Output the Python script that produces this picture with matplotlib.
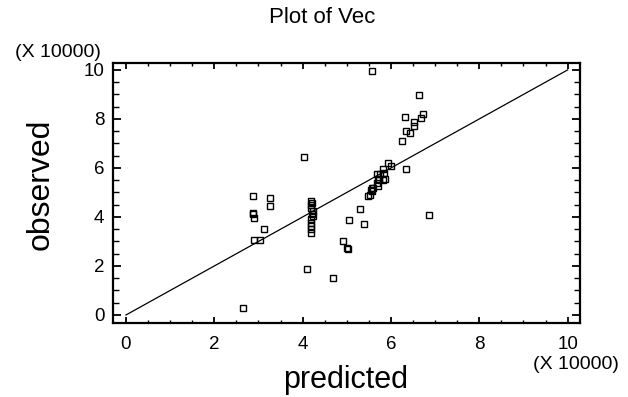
import numpy as np
import matplotlib
matplotlib.use("Agg")
import matplotlib.pyplot as plt
from matplotlib.ticker import MultipleLocator

plt.rcParams['font.family'] = ['Liberation Sans', 'DejaVu Sans']

# values shown in units of 10000
predicted = [2.66, 2.87, 3.25, 3.25, 2.87, 2.88, 2.90, 3.12, 2.90, 3.03,
             4.03, 4.10, 4.69, 4.92, 5.00, 5.02, 5.06, 5.29, 5.39, 6.85, 6.35,
             4.19, 4.21, 4.19, 4.19, 4.23, 4.22, 4.23, 4.19, 4.20, 4.19, 4.19, 4.19,
             5.49, 5.52, 5.56, 5.60, 5.71, 5.68, 5.71, 5.87, 5.68, 5.76, 5.83,
             5.94, 6.01, 6.26, 6.35, 6.42, 6.53, 6.53, 6.67, 6.73, 6.32, 6.63,
             5.58, 5.54, 5.58, 5.72, 5.83, 5.84]
observed = [0.28, 4.84, 4.76, 4.43, 4.16, 4.10, 3.95, 3.52, 3.07, 3.07,
            6.46, 1.86, 1.49, 3.00, 2.75, 2.70, 3.86, 4.33, 3.73, 4.09, 5.97,
            4.66, 4.55, 4.47, 4.37, 4.24, 4.14, 4.03, 3.90, 3.76, 3.62, 3.52, 3.36,
            4.85, 4.91, 5.05, 5.19, 5.26, 5.40, 5.56, 5.56, 5.76, 5.76, 5.94,
            6.21, 6.07, 7.08, 7.50, 7.44, 7.73, 7.87, 8.05, 8.22, 8.09, 8.99,
            9.97, 5.08, 5.18, 5.53, 5.49, 5.80]
line_x = [0, 10]

fig = plt.figure(figsize=(6.28, 3.97), dpi=100)
ax = fig.add_axes([0.1795, 0.1856, 0.7441, 0.655])

ax.plot(predicted, observed, 's', mfc='none', mec='black', ms=5, mew=1.0)
ax.plot(line_x, line_x, '-', color='black', lw=0.9)

ax.set_xlim(-0.3, 10.28)
ax.set_ylim(-0.34, 10.27)
ax.xaxis.set_major_locator(MultipleLocator(2))
ax.xaxis.set_minor_locator(MultipleLocator(0.5))
ax.yaxis.set_major_locator(MultipleLocator(2))
ax.yaxis.set_minor_locator(MultipleLocator(0.5))

for s in ax.spines.values():
    s.set_linewidth(1.6)

ax.tick_params(axis='x', which='major', direction='in', length=4, width=1.3,
               top=True, labelsize=13.5, pad=9)
ax.tick_params(axis='x', which='minor', direction='in', length=2.2, width=1.0, top=True)
ax.tick_params(axis='y', which='major', direction='in', length=6, width=1.3,
               right=True, labelsize=13.5, pad=6)
ax.tick_params(axis='y', which='minor', direction='in', length=4, width=1.0, right=True)

# labels placed in figure coordinates
fig.text(0.551, 0.043, 'predicted', fontsize=22, ha='center', va='center')
fig.text(0.064, 0.535, 'observed', fontsize=23, ha='center', va='center', rotation=90)
fig.text(0.513, 0.955, 'Plot of Vec', fontsize=16, ha='center', va='center')

fig.text(0.093, 0.869, '(X 10000)', fontsize=14, ha='center', va='center')
fig.text(0.917, 0.083, '(X 10000)', fontsize=14, ha='center', va='center')

fig.savefig('out.png', dpi=100)
